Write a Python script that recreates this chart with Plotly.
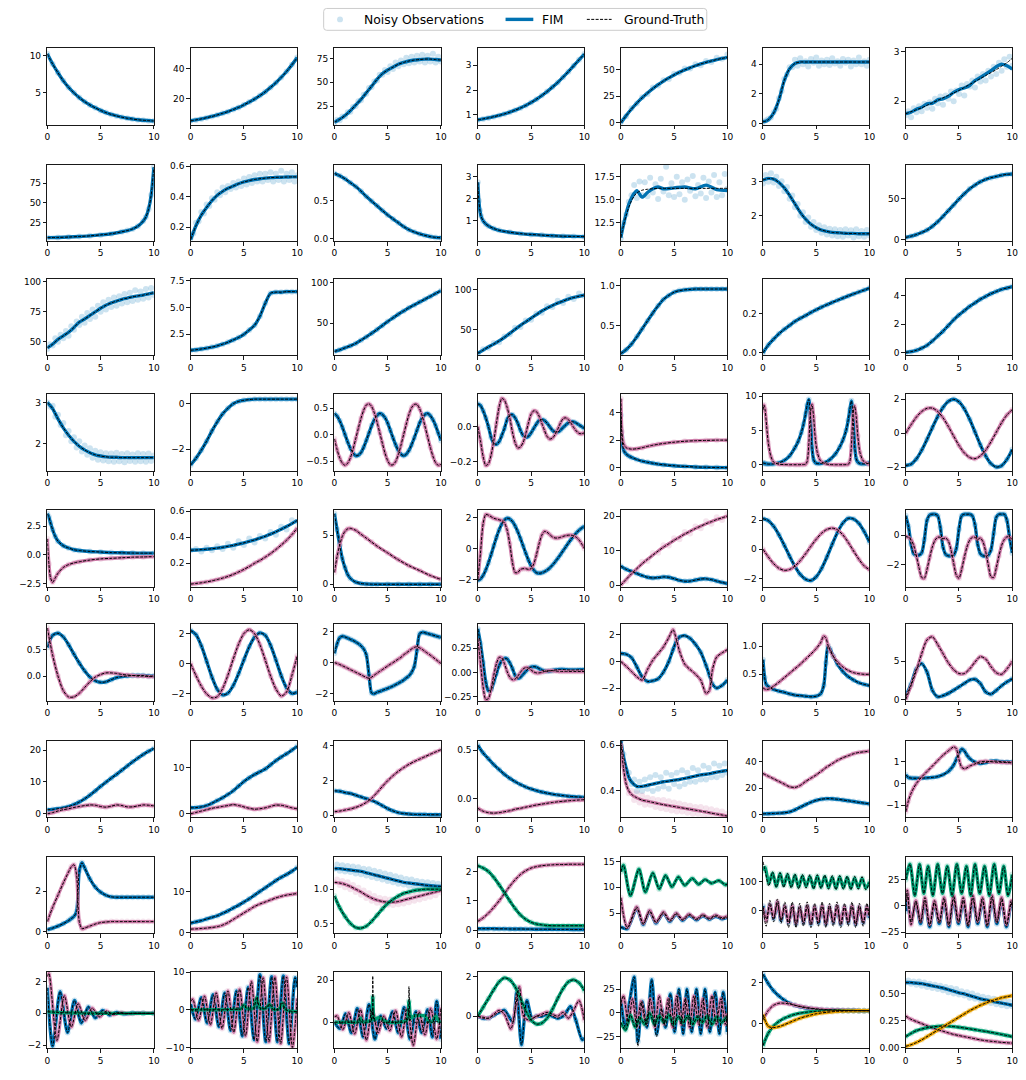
import plotly.graph_objects as go

# ---------------- common time grids ----------------
T11 = [0, 1, 2, 3, 4, 5, 6, 7, 8, 9, 10]
T21 = [0, 0.5, 1, 1.5, 2, 2.5, 3, 3.5, 4, 4.5, 5, 5.5, 6, 6.5, 7, 7.5, 8, 8.5, 9, 9.5, 10]
T41 = [0, 0.25, 0.5, 0.75, 1, 1.25, 1.5, 1.75, 2, 2.25, 2.5, 2.75, 3, 3.25, 3.5, 3.75, 4, 4.25, 4.5, 4.75,
       5, 5.25, 5.5, 5.75, 6, 6.25, 6.5, 6.75, 7, 7.25, 7.5, 7.75, 8, 8.25, 8.5, 8.75, 9, 9.25, 9.5, 9.75, 10]
X_TICKS = ["0", "5", "10"]
LEGEND_LABELS = ["Noisy Observations", "FIM", "Ground-Truth"]

# ---------------- row 1 ----------------
r1c1_t = T21
r1c1_gt = [[10.3, 8.9, 7.7, 6.6, 5.7, 4.95, 4.3, 3.75, 3.3, 2.9, 2.55, 2.25, 2.0, 1.8, 1.62, 1.48, 1.37, 1.27, 1.2, 1.15, 1.1]]
r1c1_ylim = [0.54, 11.04]
r1c1_yticks = ["5", "10"]

r1c2_t = T21
r1c2_gt = [[5.4, 6.0, 6.7, 7.5, 8.3, 9.3, 10.4, 11.5, 12.9, 14.3, 16.0, 17.8, 19.8, 22.1, 24.6, 27.5, 30.6, 34.1, 38.0, 42.4, 47.2]]
r1c2_ylim = [2.6, 53.3]
r1c2_yticks = ["20", "40"]

r1c3_t = T21
r1c3_gt = [[8, 11, 15, 20, 26, 32, 39, 46, 53, 59, 63, 66, 69, 71, 72.5, 73.5, 74, 74.5, 74.5, 74, 73.5]]
r1c3_obs_t = T41
r1c3_obs = [[7, 10.5, 10, 14, 14, 18.5, 19, 24, 25, 30, 31, 37, 38, 44, 45, 51, 52, 58, 58, 63, 61, 67, 64, 71, 67,
             73, 69, 76, 70, 77, 71, 78, 72, 79, 71, 78, 72, 80, 71, 77, 72]]
r1c3_ylim = [4.9, 85.8]
r1c3_yticks = ["25", "50", "75"]

r1c4_t = T21
r1c4_gt = [[0.80, 0.84, 0.88, 0.93, 0.98, 1.04, 1.11, 1.19, 1.28, 1.38, 1.50, 1.63, 1.78, 1.94, 2.12, 2.31, 2.52, 2.74, 2.98, 3.22, 3.45]]
r1c4_ylim = [0.59, 3.68]
r1c4_yticks = ["1", "2", "3"]

r1c5_t = T21
r1c5_gt = [[0, 6.7, 12.9, 18.4, 23.4, 27.9, 32.0, 35.7, 39.1, 42.1, 44.9, 47.4, 49.6, 51.6, 53.5, 55.2, 56.7, 58.0, 59.3, 60.4, 61.4]]
r1c5_obs = [[0.5, 6, 13.5, 18, 24, 27, 33, 35, 40, 41, 46, 47, 51, 51, 55, 54, 58, 57, 61, 60, 64]]
r1c5_ylim = [-2.2, 69.8]
r1c5_yticks = ["0", "25", "50"]

r1c6_t = T21
r1c6_gt = [[0.1, 0.25, 0.7, 1.6, 2.9, 3.7, 4.05, 4.15, 4.15, 4.15, 4.15, 4.15, 4.15, 4.15, 4.15, 4.15, 4.15, 4.15, 4.15, 4.15, 4.15]]
r1c6_obs_t = T41
r1c6_obs = [[0.1, 0.2, 0.3, 0.4, 0.75, 1.0, 1.7, 2.2, 3.0, 3.3, 3.8, 3.8, 4.3, 3.9, 4.4, 4.0, 4.2, 3.85, 4.35, 4.1,
             4.45, 3.9, 4.25, 4.0, 4.3, 3.95, 4.4, 4.05, 4.2, 3.9, 4.35, 4.1, 4.3, 3.85, 4.25, 4.0, 4.45, 4.0, 4.2, 3.9, 4.3]]
r1c6_ylim = [-0.11, 5.07]
r1c6_yticks = ["0", "2", "4"]

r1c7_t = T21
r1c7_gt = [[1.75, 1.79, 1.83, 1.87, 1.92, 1.97, 2.02, 2.07, 2.12, 2.17, 2.22, 2.28, 2.34, 2.40, 2.46, 2.52, 2.58, 2.64, 2.71, 2.78, 2.87]]
r1c7_fim = [[1.75, 1.78, 1.84, 1.88, 1.95, 1.96, 2.03, 2.05, 2.1, 2.18, 2.24, 2.27, 2.32, 2.42, 2.48, 2.55, 2.62, 2.7, 2.75, 2.72, 2.65]]
r1c7_obs_t = T41
r1c7_obs = [[1.72, 1.8, 1.68, 1.86, 1.78, 1.9, 1.8, 1.95, 1.87, 1.98, 1.85, 2.05, 1.96, 2.1, 1.93, 2.12, 2.05, 2.2, 2.0, 2.22,
             2.15, 2.32, 2.12, 2.35, 2.3, 2.42, 2.28, 2.5, 2.4, 2.55, 2.42, 2.62, 2.5, 2.7, 2.55, 2.78, 2.62, 2.85, 2.7, 2.9, 2.72]]
r1c7_ylim = [1.52, 3.07]
r1c7_yticks = ["2", "3"]

# ---------------- row 2 ----------------
r2c1_t = [0, 1, 2, 3, 4, 5, 6, 7, 7.5, 8, 8.5, 9, 9.25, 9.5, 9.75, 10]
r2c1_gt = [[6, 6.3, 6.8, 7.5, 8.3, 9.5, 11, 13.5, 15, 17, 20.5, 27, 32, 42, 60, 95]]
r2c1_ylim = [1.5, 98.5]
r2c1_yticks = ["25", "50", "75"]

r2c2_t = T21
r2c2_gt = [[0.12, 0.21, 0.28, 0.33, 0.375, 0.41, 0.435, 0.455, 0.47, 0.485, 0.497, 0.506, 0.513, 0.518, 0.522, 0.525, 0.527, 0.528, 0.529, 0.53, 0.53]]
r2c2_obs_t = T41
r2c2_obs = [[0.13, 0.16, 0.23, 0.24, 0.3, 0.29, 0.35, 0.34, 0.39, 0.38, 0.43, 0.41, 0.46, 0.43, 0.47, 0.45, 0.49, 0.46, 0.5, 0.47,
             0.52, 0.48, 0.53, 0.49, 0.54, 0.5, 0.55, 0.5, 0.55, 0.51, 0.56, 0.5, 0.55, 0.51, 0.57, 0.5, 0.55, 0.51, 0.56, 0.5, 0.54]]
r2c2_ylim = [0.109, 0.611]
r2c2_yticks = ["0.2", "0.4", "0.6"]

r2c3_t = T21
r2c3_gt = [[0.85, 0.82, 0.78, 0.73, 0.68, 0.62, 0.55, 0.49, 0.43, 0.37, 0.31, 0.26, 0.21, 0.16, 0.12, 0.09, 0.065, 0.045, 0.03, 0.02, 0.015]]
r2c3_ylim = [-0.03, 0.966]
r2c3_yticks = ["0.0", "0.5"]

r2c4_t = [0, 0.1, 0.2, 0.3, 0.5, 0.75, 1, 1.5, 2, 3, 4, 5, 6, 7, 8, 9, 10]
r2c4_gt = [[2.75, 1.9, 1.45, 1.2, 0.98, 0.84, 0.75, 0.63, 0.55, 0.46, 0.4, 0.36, 0.33, 0.3, 0.28, 0.27, 0.26]]
r2c4_ylim = [0.05, 3.56]
r2c4_yticks = ["1", "2", "3"]

r2c5_t = [0, 0.25, 0.5, 0.75, 1, 1.25, 1.5, 2, 2.5, 3, 3.5, 4, 5, 6, 7, 8, 9, 10]
r2c5_gt = [[10.9, 12.2, 13.3, 14.2, 14.9, 15.4, 15.75, 16.05, 16.15, 16.2, 16.25, 16.25, 16.25, 16.25, 16.25, 16.25, 16.25, 16.25]]
r2c5_fim = [[10.9, 12.3, 13.5, 14.5, 15.2, 15.7, 16.0, 15.3, 15.8, 16.2, 16.4, 16.2, 16.3, 16.4, 16.2, 16.6, 16.1, 16.0]]
r2c5_obs_t = T41
r2c5_obs = [[10.8, 12.5, 13.4, 14.8, 15.5, 16.6, 15.2, 17.0, 15.5, 16.9, 15.4, 17.4, 15.8, 16.7, 15.1, 17.3, 15.9, 18.6, 15.5, 16.8,
             15.3, 17.5, 15.6, 16.9, 15.0, 17.2, 16.0, 17.6, 15.4, 16.6, 15.7, 17.4, 15.2, 17.0, 15.8, 17.7, 15.3, 16.9, 15.5, 17.8, 16.2]]
r2c5_ylim = [10.5, 18.84]
r2c5_yticks = ["12.5", "15.0", "17.5"]

r2c6_t = T21
r2c6_gt = [[3.05, 3.1, 3.08, 2.98, 2.82, 2.6, 2.35, 2.1, 1.9, 1.75, 1.65, 1.58, 1.54, 1.51, 1.5, 1.49, 1.48, 1.48, 1.47, 1.47, 1.47]]
r2c6_obs_t = T41
r2c6_obs = [[2.95, 3.2, 3.0, 3.25, 2.98, 3.15, 2.88, 3.02, 2.72, 2.85, 2.5, 2.6, 2.25, 2.35, 2.0, 2.1, 1.82, 1.95, 1.68, 1.82,
             1.58, 1.72, 1.5, 1.66, 1.45, 1.62, 1.42, 1.6, 1.4, 1.58, 1.38, 1.6, 1.42, 1.57, 1.36, 1.6, 1.4, 1.55, 1.38, 1.58, 1.42]]
r2c6_ylim = [1.25, 3.51]
r2c6_yticks = ["2", "3"]

r2c7_t = T21
r2c7_gt = [[3, 4.5, 6.5, 9, 12, 16.5, 22, 28.5, 35.5, 42.5, 49.5, 56, 62, 66.5, 70.5, 73.5, 75.5, 77, 78.5, 79.5, 80]]
r2c7_ylim = [-1.6, 91.5]
r2c7_yticks = ["0", "50"]

# ---------------- row 3 ----------------
r3c1_t = T21
r3c1_gt = [[45, 48, 52, 55, 58, 62, 66.5, 69, 72, 75, 78, 80.5, 82.5, 84, 85.5, 86.5, 87.5, 88.3, 89, 90, 91]]
r3c1_obs_t = T41
r3c1_obs = [[44, 48, 47, 53, 50, 56, 53, 59, 55, 63, 60, 67, 64, 71, 66, 74, 69, 77, 71, 80, 75, 83, 77, 85, 79,
             87, 80, 88, 82, 90, 83, 91, 84, 93, 85, 92, 86, 94, 87, 95, 89]]
r3c1_ylim = [38.7, 102.7]
r3c1_yticks = ["50", "75", "100"]

r3c2_t = T21
r3c2_gt = [[1.0, 1.05, 1.12, 1.2, 1.3, 1.42, 1.57, 1.75, 1.97, 2.2, 2.5, 2.9, 3.35, 4.2, 5.4, 6.35, 6.45, 6.45, 6.5, 6.5, 6.5]]
r3c2_ylim = [0.52, 7.72]
r3c2_yticks = ["2.5", "5.0", "7.5"]

r3c3_t = T21
r3c3_gt = [[15, 17, 19.5, 22, 25, 29, 33, 37.5, 42, 47, 52, 56.5, 61, 65, 69, 72.5, 76, 79.5, 83, 86.5, 90]]
r3c3_ylim = [10.2, 104.9]
r3c3_yticks = ["50", "100"]

r3c4_t = T21
r3c4_gt = [[20, 24, 28, 31.5, 35.5, 40, 45, 50, 55, 59.5, 64, 68.5, 73, 76.5, 80, 83, 85.5, 88, 90, 91.5, 93]]
r3c4_obs = [[19, 25, 27, 33, 34, 41, 44, 52, 53, 61, 62, 70, 71, 79, 78, 86, 83, 91, 88, 95, 92]]
r3c4_ylim = [17.4, 113.6]
r3c4_yticks = ["50", "100"]

r3c5_t = T21
r3c5_gt = [[0.15, 0.2, 0.27, 0.36, 0.46, 0.56, 0.66, 0.75, 0.83, 0.88, 0.92, 0.94, 0.95, 0.955, 0.96, 0.96, 0.96, 0.96, 0.96, 0.96, 0.96]]
r3c5_ylim = [0.128, 1.09]
r3c5_yticks = ["0.5", "1.0"]

r3c6_t = T21
r3c6_gt = [[0.0, 0.04, 0.07, 0.097, 0.12, 0.14, 0.16, 0.176, 0.19, 0.206, 0.22, 0.233, 0.245, 0.257, 0.268, 0.279, 0.29, 0.3, 0.31, 0.32, 0.33]]
r3c6_ylim = [-0.013, 0.378]
r3c6_yticks = ["0.0", "0.2"]

r3c7_t = T21
r3c7_gt = [[0, 0.05, 0.15, 0.3, 0.5, 0.8, 1.15, 1.5, 1.9, 2.3, 2.65, 2.95, 3.25, 3.5, 3.75, 3.95, 4.15, 4.3, 4.45, 4.55, 4.65]]
r3c7_ylim = [-0.21, 5.21]
r3c7_yticks = ["0", "2", "4"]

# ---------------- row 4 ----------------
r4c1_t = T21
r4c1_gt = [[3.0, 2.85, 2.6, 2.38, 2.2, 2.05, 1.93, 1.84, 1.77, 1.72, 1.69, 1.67, 1.66, 1.66, 1.65, 1.65, 1.65, 1.65, 1.65, 1.65, 1.65]]
r4c1_obs_t = T41
r4c1_obs = [[3.0, 2.9, 2.92, 2.65, 2.7, 2.45, 2.5, 2.2, 2.3, 2.05, 2.15, 1.9, 2.05, 1.8, 1.95, 1.72, 1.88, 1.65, 1.82, 1.6,
             1.78, 1.58, 1.76, 1.56, 1.75, 1.55, 1.77, 1.56, 1.74, 1.54, 1.76, 1.57, 1.73, 1.55, 1.76, 1.56, 1.74, 1.55, 1.75, 1.57, 1.7]]
r4c1_ylim = [1.32, 3.2]
r4c1_yticks = ["2", "3"]

r4c2_t = T21
r4c2_gt = [[-2.7, -2.4, -2.05, -1.65, -1.2, -0.8, -0.45, -0.2, 0.0, 0.1, 0.15, 0.18, 0.2, 0.2, 0.2, 0.2, 0.2, 0.2, 0.2, 0.2, 0.2]]
r4c2_ylim = [-2.97, 0.41]
r4c2_yticks = ["\u22122", "0"]

r4c3_t = T41
r4c3_gt = [
    [0.40, 0.35, 0.26, 0.14, 0.0, -0.14, -0.26, -0.35, -0.40, -0.39, -0.34, -0.24, -0.11, 0.03, 0.17, 0.28, 0.36, 0.40, 0.38, 0.32,
     0.22, 0.08, -0.06, -0.19, -0.30, -0.37, -0.40, -0.37, -0.30, -0.19, -0.06, 0.08, 0.22, 0.32, 0.38, 0.40, 0.36, 0.28, 0.17, 0.03, -0.11],
    [-0.08, -0.28, -0.44, -0.54, -0.58, -0.54, -0.44, -0.28, -0.08, 0.12, 0.31, 0.46, 0.56, 0.58, 0.53, 0.41, 0.24, 0.04, -0.16, -0.35,
     -0.49, -0.57, -0.57, -0.51, -0.38, -0.20, 0.0, 0.20, 0.38, 0.51, 0.57, 0.57, 0.49, 0.35, 0.16, -0.04, -0.24, -0.41, -0.53, -0.58, -0.56],
]
r4c3_ylim = [-0.69, 0.76]
r4c3_yticks = ["\u22120.5", "0.0", "0.5"]

r4c4_t = T41
r4c4_gt = [
    [0.13, 0.12, 0.09, 0.05, 0.0, -0.06, -0.095, -0.1, -0.085, -0.05, -0.01, 0.04, 0.065, 0.068, 0.05, 0.02, -0.02, -0.05, -0.06, -0.055,
     -0.035, -0.01, 0.015, 0.035, 0.04, 0.035, 0.02, 0.0, -0.02, -0.03, -0.03, -0.02, -0.005, 0.01, 0.022, 0.028, 0.027, 0.02, 0.01, 0.0, -0.01],
    [0.0, -0.08, -0.17, -0.22, -0.21, -0.16, -0.08, 0.02, 0.11, 0.16, 0.15, 0.11, 0.05, -0.03, -0.09, -0.12, -0.115, -0.09, -0.04, 0.02,
     0.07, 0.09, 0.085, 0.06, 0.02, -0.02, -0.055, -0.07, -0.065, -0.045, -0.015, 0.02, 0.045, 0.05, 0.04, 0.02, -0.005, -0.025, -0.038, -0.04, -0.035],
]
r4c4_ylim = [-0.252, 0.183]
r4c4_yticks = ["\u22120.2", "0.0"]

r4c5_t = [0, 0.1, 0.2, 0.3, 0.5, 0.75, 1, 1.5, 2, 2.5, 3, 3.5, 4, 5, 6, 7, 8, 9, 10]
r4c5_gt = [
    [3.8, 2.2, 1.5, 1.2, 1.0, 0.85, 0.75, 0.6, 0.48, 0.4, 0.33, 0.27, 0.22, 0.15, 0.1, 0.06, 0.04, 0.02, 0.01],
    [5.0, 2.6, 1.9, 1.65, 1.45, 1.38, 1.35, 1.38, 1.45, 1.55, 1.63, 1.7, 1.76, 1.85, 1.92, 1.96, 1.98, 2.0, 2.0],
]
r4c5_ylim = [-0.24, 5.31]
r4c5_yticks = ["0", "2", "4"]

r4c6_t = [0, 0.1, 0.2, 0.35, 0.5, 0.75, 1.0, 1.5, 2.0, 2.5, 3.0, 3.3, 3.6, 3.8, 4.0, 4.15, 4.3, 4.45, 4.6, 4.75,
          4.9, 5.1, 5.4, 5.8, 6.3, 6.8, 7.2, 7.5, 7.8, 8.0, 8.15, 8.3, 8.45, 8.6, 8.75, 8.9, 9.1, 9.4, 9.8, 10.0]
r4c6_gt = [
    [0.3, 0.25, 0.2, 0.15, 0.12, 0.12, 0.15, 0.3, 0.65, 1.3, 2.5, 3.4, 4.7, 5.9, 7.4, 8.7, 9.5, 7.0, 2.5, 0.8,
     0.35, 0.2, 0.2, 0.35, 0.8, 1.6, 2.6, 3.6, 5.0, 6.5, 8.0, 9.3, 7.2, 2.8, 0.9, 0.4, 0.2, 0.15, 0.2, 0.3],
    [8.0, 8.7, 8.0, 5.5, 3.2, 1.2, 0.4, 0.1, 0.05, 0.03, 0.03, 0.03, 0.04, 0.05, 0.1, 0.5, 3.0, 7.5, 8.8, 7.0,
     4.0, 1.8, 0.6, 0.2, 0.05, 0.03, 0.03, 0.03, 0.04, 0.08, 0.5, 2.8, 7.3, 8.6, 7.0, 4.2, 1.8, 0.6, 0.2, 0.1],
]
r4c6_ylim = [-0.9, 10.24]
r4c6_yticks = ["0", "5", "10"]

r4c7_t = T21
r4c7_gt = [
    [-1.9, -1.82, -1.51, -1.0, -0.36, 0.33, 0.98, 1.52, 1.88, 2.0, 1.85, 1.44, 0.82, 0.08, -0.68, -1.33, -1.79, -1.99, -1.91, -1.54, -0.95],
    [0.0, 0.5, 0.95, 1.28, 1.47, 1.48, 1.29, 0.91, 0.40, -0.17, -0.72, -1.16, -1.43, -1.50, -1.34, -1.0, -0.5, 0.06, 0.62, 1.08, 1.39],
]
r4c7_ylim = [-2.23, 2.29]
r4c7_yticks = ["\u22122", "0", "2"]

# ---------------- row 5 ----------------
r5c1_t = [0, 0.15, 0.3, 0.5, 0.75, 1, 1.5, 2, 2.5, 3, 4, 5, 6, 7, 8, 9, 10]
r5c1_gt = [
    [3.6, 3.3, 2.8, 2.2, 1.6, 1.2, 0.8, 0.6, 0.45, 0.38, 0.3, 0.25, 0.2, 0.18, 0.16, 0.15, 0.15],
    [1.4, -0.8, -2.0, -2.4, -2.0, -1.6, -1.1, -0.85, -0.7, -0.6, -0.45, -0.35, -0.3, -0.25, -0.2, -0.18, -0.15],
]
r5c1_ylim = [-2.8, 3.9]
r5c1_yticks = ["\u22122.5", "0.0", "2.5"]

r5c2_t = T21
r5c2_gt = [
    [0.30, 0.302, 0.305, 0.308, 0.312, 0.317, 0.323, 0.33, 0.338, 0.347, 0.357, 0.368, 0.38, 0.393, 0.408, 0.424, 0.442, 0.461, 0.482, 0.505, 0.53],
    [0.04, 0.045, 0.05, 0.057, 0.065, 0.075, 0.086, 0.099, 0.115, 0.133, 0.153, 0.175, 0.2, 0.222, 0.247, 0.275, 0.306, 0.34, 0.377, 0.42, 0.47],
]
r5c2_obs = [
    [0.3, 0.31, 0.29, 0.32, 0.3, 0.33, 0.31, 0.35, 0.32, 0.37, 0.34, 0.39, 0.36, 0.41, 0.39, 0.44, 0.42, 0.48, 0.46, 0.53, 0.52],
    None,
]
r5c2_ylim = [0.018, 0.608]
r5c2_yticks = ["0.2", "0.4", "0.6"]

r5c3_t = [0, 0.25, 0.5, 0.75, 1, 1.25, 1.5, 2, 2.5, 3, 3.5, 4, 5, 6, 7, 8, 9, 10]
r5c3_gt = [
    [7.2, 5.6, 4.0, 2.6, 1.7, 1.0, 0.6, 0.22, 0.08, 0.03, 0.01, 0, 0, 0, 0, 0, 0, 0],
    [1.2, 2.8, 4.0, 4.9, 5.4, 5.65, 5.7, 5.5, 5.1, 4.7, 4.3, 3.9, 3.2, 2.5, 1.9, 1.4, 0.9, 0.5],
]
r5c3_ylim = [-0.27, 7.55]
r5c3_yticks = ["0", "5"]

r5c4_t = T41
r5c4_gt = [
    [-2.05, -1.97, -1.74, -1.38, -0.92, -0.39, 0.17, 0.72, 1.2, 1.58, 1.84, 1.95, 1.91, 1.74, 1.46, 1.09, 0.65, 0.175, -0.30, -0.74,
     -1.11, -1.39, -1.56, -1.6, -1.57, -1.5, -1.39, -1.25, -1.07, -0.87, -0.64, -0.40, -0.15, 0.10, 0.35, 0.59, 0.81, 1.01, 1.18, 1.32, 1.42],
    [-2.0, -0.3, 1.6, 2.2, 2.15, 2.05, 1.95, 1.9, 1.85, 1.8, 1.65, 1.2, 0.3, -0.9, -1.55, -1.55, -1.35, -1.3, -1.3, -1.35,
     -1.3, -1.0, -0.4, 0.3, 0.85, 1.1, 1.05, 0.9, 0.75, 0.68, 0.68, 0.72, 0.78, 0.83, 0.86, 0.86, 0.82, 0.72, 0.55, 0.3, 0.0],
]
r5c4_ylim = [-2.48, 2.47]
r5c4_yticks = ["\u22122", "0", "2"]

r5c5_t = T21
r5c5_gt = [
    [5.5, 4.6, 4.0, 3.4, 2.8, 2.3, 2.1, 2.2, 2.4, 2.3, 1.9, 1.4, 1.15, 1.2, 1.5, 1.8, 1.85, 1.6, 1.2, 0.8, 0.45],
    [0, 1.7, 3.3, 4.8, 6.2, 7.5, 8.7, 9.9, 11.0, 12.0, 13.0, 13.9, 14.8, 15.6, 16.4, 17.1, 17.8, 18.4, 19.0, 19.5, 20.0],
]
r5c5_obs = [
    None,
    [0.3, 1.2, 3.8, 4.3, 6.8, 7.0, 9.3, 9.4, 11.6, 11.5, 13.6, 13.3, 15.4, 15.0, 17.0, 16.5, 18.5, 17.8, 19.7, 18.9, 20.6],
]
r5c5_ylim = [-0.5, 21.7]
r5c5_yticks = ["0", "10", "20"]

r5c6_t = T21
r5c6_gt = [
    [2.1, 1.97, 1.58, 0.99, 0.28, -0.48, -1.17, -1.73, -2.06, -2.15, -1.89, -1.32, -0.53, 0.35, 1.17, 1.8, 2.12, 2.08, 1.78, 1.21, 0.48],
    [0.0, -0.53, -0.99, -1.31, -1.45, -1.39, -1.16, -0.78, -0.31, 0.21, 0.69, 1.1, 1.36, 1.45, 1.33, 0.98, 0.47, -0.12, -0.69, -1.15, -1.41],
]
r5c6_ylim = [-2.59, 2.68]
r5c6_yticks = ["\u22122", "0", "2"]

r5c7_t = T41
r5c7_gt = [
    [1.3, 0.6, -0.6, -1.25, -1.35, -1.35, -1.2, -0.3, 1.0, 1.35, 1.4, 1.4, 1.3, 0.5, -0.8, -1.3, -1.4, -1.4, -1.35, -0.9,
     0.4, 1.3, 1.4, 1.4, 1.4, 1.3, 0.7, -0.6, -1.25, -1.4, -1.4, -1.35, -1.0, 0.1, 1.2, 1.4, 1.4, 1.4, 1.0, -0.2, -1.2],
    [-0.1, -0.15, -0.3, -0.7, -1.4, -2.2, -2.85, -2.9, -2.3, -1.5, -0.8, -0.35, -0.15, -0.15, -0.25, -0.2, -0.4, -1.0, -1.9, -2.7,
     -2.9, -2.3, -1.5, -0.8, -0.35, -0.15, -0.15, -0.3, -0.2, -0.45, -1.1, -2.0, -2.8, -2.85, -2.2, -1.4, -0.7, -0.3, -0.12, -0.15, -0.3],
]
r5c7_ylim = [-3.49, 1.67]
r5c7_yticks = ["\u22122", "0"]

# ---------------- row 6 ----------------
r6c1_t = T21
r6c1_gt = [
    [0.55, 0.78, 0.82, 0.75, 0.6, 0.42, 0.25, 0.1, -0.02, -0.09, -0.12, -0.11, -0.07, -0.03, -0.01, 0.0, 0.01, 0.01, 0.01, 0.0, 0.0],
    [0.92, 0.4, 0.0, -0.28, -0.4, -0.4, -0.33, -0.22, -0.11, -0.02, 0.03, 0.06, 0.06, 0.05, 0.03, 0.02, 0.01, 0.0, 0.0, -0.01, -0.01],
]
r6c1_ylim = [-0.48, 0.99]
r6c1_yticks = ["0.0", "0.5"]

r6c2_t = T21
r6c2_gt = [
    [2.2, 1.93, 1.19, 0.16, -0.9, -1.72, -2.09, -1.97, -1.46, -0.67, 0.25, 1.12, 1.76, 2.04, 1.88, 1.22, 0.24, -0.80, -1.61, -1.99, -1.9],
    [0.0, -0.8, -1.51, -2.02, -2.28, -2.21, -1.67, -0.77, 0.30, 1.29, 2.0, 2.25, 1.99, 1.26, 0.24, -0.83, -1.69, -2.16, -1.9, -0.8, 0.5],
]
r6c2_ylim = [-2.5, 2.61]
r6c2_yticks = ["\u22122", "0", "2"]

r6c3_t = T41
r6c3_gt = [
    [0.6, 1.2, 1.6, 1.7, 1.65, 1.58, 1.5, 1.42, 1.33, 1.22, 1.08, 0.88, 0.5, -0.8, -1.95, -2.0, -1.9, -1.85, -1.78, -1.72,
     -1.65, -1.58, -1.5, -1.42, -1.33, -1.23, -1.12, -0.98, -0.85, -0.62, -0.25, 0.8, 1.85, 1.95, 1.92, 1.87, 1.82, 1.77, 1.72, 1.67, 1.62],
    [0.0, -0.05, -0.12, -0.2, -0.28, -0.36, -0.45, -0.53, -0.62, -0.7, -0.78, -0.87, -0.95, -1.0, -0.93, -0.8, -0.68, -0.56, -0.45, -0.33,
     -0.22, -0.1, 0.0, 0.12, 0.23, 0.34, 0.5, 0.62, 0.75, 0.88, 0.98, 1.02, 0.95, 0.85, 0.72, 0.6, 0.48, 0.35, 0.22, 0.08, -0.05],
]
r6c3_ylim = [-2.47, 2.46]
r6c3_yticks = ["\u22122", "0", "2"]

r6c4_t = T41
r6c4_gt = [
    [0.45, 0.3, 0.1, -0.1, -0.19, -0.18, -0.1, -0.01, 0.07, 0.12, 0.145, 0.14, 0.1, 0.04, -0.03, -0.06, -0.05, -0.02, 0.01, 0.04,
     0.055, 0.06, 0.055, 0.04, 0.025, 0.015, 0.012, 0.015, 0.02, 0.025, 0.028, 0.03, 0.03, 0.028, 0.026, 0.025, 0.025, 0.026, 0.027, 0.027, 0.027],
    [0.35, 0.1, -0.15, -0.28, -0.27, -0.17, -0.03, 0.09, 0.155, 0.15, 0.09, 0.01, -0.05, -0.075, -0.07, -0.04, 0.0, 0.035, 0.05, 0.045,
     0.025, 0.005, -0.005, -0.005, 0.0, 0.01, 0.015, 0.018, 0.018, 0.015, 0.012, 0.01, 0.01, 0.01, 0.01, 0.01, 0.01, 0.01, 0.01, 0.01, 0.01],
]
r6c4_ylim = [-0.297, 0.497]
r6c4_yticks = ["\u22120.25", "0.00", "0.25"]

r6c5_t = [0, 0.5, 1, 1.5, 2, 2.5, 3, 3.5, 4, 4.5, 4.9, 5.2, 5.5, 6, 6.5, 7, 7.5, 8, 8.3, 8.6, 9, 9.5, 10]
r6c5_gt = [
    [0.6, 0.55, 0.3, -0.4, -1.15, -1.5, -1.45, -1.3, -0.8, 0.0, 0.9, 1.5, 1.85, 1.95, 1.75, 1.3, 0.7, -0.3, -1.0, -1.7, -2.0, -1.8, -1.4],
    [0.0, -0.35, -0.75, -1.15, -1.4, -0.6, 0.1, 0.6, 1.1, 1.8, 2.4, 1.7, 0.8, -0.2, -0.6, -0.95, -1.4, -2.4, -2.2, -0.6, 0.35, 0.65, 0.9],
]
r6c5_ylim = [-2.98, 2.8]
r6c5_yticks = ["\u22122", "0", "2"]

r6c6_t = [0, 0.15, 0.3, 0.6, 1, 1.5, 2, 2.5, 3, 3.5, 4, 4.5, 5, 5.4, 5.7, 5.9, 6.1, 6.3, 6.6, 7, 7.5, 8, 8.5, 9, 9.5, 10]
r6c6_gt = [
    [0.76, 0.45, 0.32, 0.27, 0.23, 0.2, 0.18, 0.15, 0.13, 0.12, 0.11, 0.1, 0.11, 0.15, 0.3, 0.7, 1.0, 0.95, 0.82, 0.68, 0.55, 0.46, 0.4, 0.35, 0.32, 0.3],
    [0.26, 0.24, 0.23, 0.24, 0.29, 0.36, 0.44, 0.52, 0.6, 0.68, 0.77, 0.86, 0.96, 1.06, 1.18, 1.15, 1.02, 0.92, 0.82, 0.72, 0.63, 0.57, 0.53, 0.51, 0.5, 0.5],
]
r6c6_ylim = [0.023, 1.39]
r6c6_yticks = ["0.5", "1.0"]

r6c7_t = T21
r6c7_gt = [
    [0.4, 2.0, 4.0, 4.7, 3.6, 1.2, 0.35, 0.5, 0.8, 1.2, 1.65, 2.1, 2.55, 2.65, 2.1, 1.0, 0.7, 1.2, 1.8, 2.3, 2.7],
    [0.0, 1.8, 3.8, 6.0, 7.8, 8.2, 7.2, 6.0, 4.8, 3.9, 3.4, 3.4, 4.0, 4.9, 5.6, 5.3, 4.3, 3.5, 3.3, 4.0, 5.0],
]
r6c7_ylim = [-0.21, 9.83]
r6c7_yticks = ["0", "5"]

# ---------------- row 7 ----------------
r7c1_t = T21
r7c1_gt = [
    [1.3, 1.4, 1.6, 1.9, 2.3, 2.9, 3.7, 4.7, 5.9, 7.2, 8.6, 9.9, 11.2, 12.4, 13.7, 15.0, 16.3, 17.5, 18.6, 19.6, 20.5],
    [0.0, 0.4, 0.9, 1.3, 1.6, 2.0, 2.3, 2.6, 2.8, 2.7, 2.3, 2.1, 2.4, 2.8, 2.6, 2.2, 2.2, 2.5, 2.8, 2.7, 2.5],
]
r7c1_ylim = [-1.15, 22.9]
r7c1_yticks = ["0", "10", "20"]

r7c2_t = T21
r7c2_gt = [
    [1.3, 1.35, 1.5, 1.8, 2.3, 2.9, 3.5, 4.2, 5.0, 6.0, 7.0, 7.8, 8.5, 9.1, 9.7, 10.6, 11.5, 12.3, 13.0, 13.8, 14.6],
    [0.0, 0.3, 0.6, 0.9, 1.2, 1.4, 1.6, 1.8, 2.0, 1.8, 1.5, 1.2, 1.0, 1.1, 1.3, 1.6, 1.9, 1.85, 1.6, 1.3, 1.1],
]
r7c2_ylim = [-0.8, 15.8]
r7c2_yticks = ["0", "10"]

r7c3_t = T21
r7c3_gt = [
    [1.4, 1.38, 1.3, 1.25, 1.15, 1.05, 0.95, 0.85, 0.72, 0.55, 0.38, 0.25, 0.15, 0.1, 0.07, 0.05, 0.04, 0.04, 0.03, 0.03, 0.03],
    [0.2, 0.24, 0.3, 0.36, 0.45, 0.57, 0.74, 0.98, 1.3, 1.65, 1.98, 2.27, 2.52, 2.73, 2.92, 3.08, 3.22, 3.36, 3.5, 3.63, 3.76],
]
r7c3_ylim = [-0.13, 4.27]
r7c3_yticks = ["0", "2", "4"]

r7c4_t = T21
r7c4_gt = [
    [0.55, 0.47, 0.41, 0.35, 0.3, 0.25, 0.21, 0.175, 0.145, 0.12, 0.1, 0.083, 0.068, 0.056, 0.046, 0.038, 0.031, 0.025, 0.02, 0.016, 0.013],
    [-0.1, -0.13, -0.145, -0.15, -0.145, -0.135, -0.125, -0.11, -0.1, -0.088, -0.077, -0.066, -0.057, -0.048, -0.04, -0.033, -0.027, -0.022, -0.018, -0.014, -0.011],
]
r7c4_ylim = [-0.195, 0.596]
r7c4_yticks = ["0.0", "0.5"]

r7c5_t = [0, 0.25, 0.5, 0.75, 1, 1.5, 2, 2.5, 3, 3.5, 4, 4.5, 5, 5.5, 6, 6.5, 7, 7.5, 8, 8.5, 9, 9.5, 10]
r7c5_gt = [
    [0.62, 0.55, 0.5, 0.46, 0.44, 0.42, 0.42, 0.425, 0.43, 0.435, 0.44, 0.443, 0.447, 0.45, 0.455, 0.46, 0.465, 0.47, 0.473, 0.477, 0.482, 0.486, 0.49],
    [0.61, 0.5, 0.43, 0.4, 0.385, 0.37, 0.36, 0.355, 0.35, 0.345, 0.34, 0.336, 0.332, 0.328, 0.324, 0.32, 0.316, 0.312, 0.308, 0.303, 0.299, 0.295, 0.29],
]
r7c5_obs_t = T41
r7c5_obs = [
    [0.62, 0.56, 0.49, 0.48, 0.43, 0.45, 0.4, 0.44, 0.4, 0.45, 0.41, 0.46, 0.4, 0.47, 0.41, 0.46, 0.42, 0.48, 0.41, 0.47,
     0.43, 0.48, 0.42, 0.49, 0.43, 0.48, 0.44, 0.5, 0.44, 0.49, 0.45, 0.51, 0.45, 0.5, 0.46, 0.52, 0.46, 0.51, 0.47, 0.52, 0.48],
    [0.6, 0.51, 0.44, 0.39, 0.4, 0.36, 0.39, 0.35, 0.38, 0.34, 0.37, 0.34, 0.365, 0.33, 0.36, 0.325, 0.36, 0.32, 0.355, 0.315,
     0.35, 0.31, 0.345, 0.31, 0.34, 0.305, 0.335, 0.3, 0.33, 0.3, 0.33, 0.29, 0.325, 0.29, 0.32, 0.285, 0.315, 0.28, 0.31, 0.28, 0.3],
]
r7c5_ylim = [0.284, 0.619]
r7c5_yticks = ["0.4", "0.6"]

r7c6_t = T21
r7c6_gt = [
    [0.5, 0.6, 0.8, 1.0, 1.3, 2.0, 3.5, 5.5, 7.5, 9.3, 10.7, 11.6, 12.0, 11.9, 11.5, 11.0, 10.4, 9.8, 9.2, 8.6, 8.0],
    [31, 29, 27, 25, 23, 21, 20.5, 22, 25, 27.5, 30, 33, 36, 38.5, 41, 43, 44.5, 46, 47, 47.5, 48],
]
r7c6_ylim = [-2.3, 55.8]
r7c6_yticks = ["0", "20", "40"]

r7c7_t = [0, 0.25, 0.5, 0.75, 1, 1.5, 2, 2.5, 3, 3.5, 4, 4.25, 4.5, 4.75, 5, 5.25, 5.5, 5.75, 6, 6.5, 7, 7.5, 8, 8.5, 9, 9.5, 10]
r7c7_gt = [
    [0.4, 0.28, 0.25, 0.24, 0.24, 0.25, 0.26, 0.28, 0.32, 0.4, 0.55, 0.68, 0.85, 1.1, 1.4, 1.58, 1.5, 1.3, 1.15, 0.98, 0.92, 0.96, 1.02, 1.03, 1.0, 0.99, 0.98],
    [-1.3, -0.8, -0.45, -0.2, 0.0, 0.3, 0.55, 0.8, 1.05, 1.3, 1.5, 1.6, 1.68, 1.6, 1.1, 0.75, 0.68, 0.72, 0.8, 0.9, 1.0, 1.02, 1.0, 0.98, 0.97, 0.96, 0.95],
]
r7c7_ylim = [-1.56, 1.96]
r7c7_yticks = ["\u22121", "0", "1"]

# ---------------- row 8 ----------------
r8c1_t = [0, 0.5, 1, 1.5, 2, 2.25, 2.5, 2.75, 3, 3.25, 3.5, 4, 4.5, 5, 5.5, 6, 6.5, 7, 7.5, 8, 8.5, 9, 9.5, 10]
r8c1_gt = [
    [0.1, 0.18, 0.28, 0.4, 0.55, 0.65, 0.75, 1.0, 3.0, 3.4, 3.15, 2.6, 2.2, 1.95, 1.8, 1.72, 1.7, 1.7, 1.7, 1.7, 1.7, 1.7, 1.7, 1.7],
    [0.5, 1.2, 1.8, 2.4, 2.95, 3.2, 3.3, 2.8, 0.5, 0.15, 0.18, 0.28, 0.38, 0.45, 0.48, 0.5, 0.5, 0.5, 0.5, 0.5, 0.5, 0.5, 0.5, 0.5],
]
r8c1_ylim = [-0.08, 3.7]
r8c1_yticks = ["0", "2"]

r8c2_t = T21
r8c2_gt = [
    [2.3, 2.6, 2.9, 3.3, 3.7, 4.1, 4.7, 5.3, 6.0, 6.7, 7.5, 8.3, 9.2, 10.1, 11.0, 11.9, 12.8, 13.6, 14.3, 15.1, 16.0],
    [0.8, 0.85, 0.95, 1.05, 1.2, 1.4, 1.8, 2.4, 3.2, 4.0, 4.8, 5.6, 6.4, 7.0, 7.5, 8.0, 8.5, 8.9, 9.2, 9.4, 9.6],
]
r8c2_ylim = [-0.25, 18.7]
r8c2_yticks = ["0", "10"]

r8c3_t = T21
r8c3_gt = [
    [1.3, 1.3, 1.29, 1.28, 1.27, 1.26, 1.24, 1.22, 1.2, 1.18, 1.16, 1.14, 1.12, 1.1, 1.09, 1.08, 1.07, 1.06, 1.05, 1.045, 1.04],
    [1.1, 1.09, 1.07, 1.04, 1.0, 0.96, 0.91, 0.87, 0.84, 0.82, 0.81, 0.81, 0.82, 0.84, 0.86, 0.88, 0.9, 0.92, 0.94, 0.96, 0.98],
    [0.9, 0.73, 0.6, 0.5, 0.44, 0.43, 0.46, 0.53, 0.62, 0.71, 0.79, 0.85, 0.9, 0.94, 0.96, 0.98, 0.99, 1.0, 1.0, 1.0, 1.0],
]
r8c3_obs_t = T41
r8c3_obs = [
    [1.3, 1.36, 1.27, 1.35, 1.26, 1.34, 1.25, 1.33, 1.23, 1.32, 1.22, 1.3, 1.2, 1.29, 1.18, 1.27, 1.16, 1.25, 1.14, 1.23,
     1.12, 1.21, 1.1, 1.19, 1.08, 1.17, 1.07, 1.15, 1.05, 1.14, 1.03, 1.12, 1.02, 1.11, 1.01, 1.1, 1.0, 1.09, 0.99, 1.08, 1.02],
    [1.1, 1.14, 1.06, 1.12, 1.03, 1.1, 1.0, 1.06, 0.96, 1.02, 0.92, 0.98, 0.87, 0.94, 0.83, 0.9, 0.8, 0.87, 0.78, 0.86,
     0.77, 0.85, 0.77, 0.86, 0.78, 0.88, 0.79, 0.9, 0.81, 0.92, 0.83, 0.94, 0.85, 0.96, 0.87, 0.98, 0.89, 1.0, 0.91, 1.02, 0.95],
    None,
]
r8c3_ylim = [0.354, 1.476]
r8c3_yticks = ["0.5", "1.0"]

r8c4_t = T21
r8c4_gt = [
    [0.05, 0.05, 0.05, 0.05, 0.045, 0.045, 0.04, 0.04, 0.04, 0.035, 0.035, 0.03, 0.03, 0.03, 0.03, 0.025, 0.025, 0.025, 0.02, 0.02, 0.02],
    [0.3, 0.42, 0.58, 0.78, 1.0, 1.25, 1.5, 1.72, 1.9, 2.03, 2.12, 2.17, 2.2, 2.22, 2.23, 2.24, 2.24, 2.25, 2.25, 2.25, 2.25],
    [2.2, 2.12, 2.0, 1.8, 1.55, 1.28, 1.0, 0.74, 0.52, 0.37, 0.27, 0.21, 0.18, 0.16, 0.15, 0.15, 0.15, 0.15, 0.15, 0.15, 0.15],
]
r8c4_ylim = [-0.11, 2.51]
r8c4_yticks = ["0", "1", "2"]

r8c5_t = [
    [0, 0.6, 1.5, 2.1, 2.7, 3.3, 4.0, 4.6, 5.2, 5.8, 6.4, 7.1, 7.7, 8.3, 8.9, 9.5, 10],
    [0, 0.6, 1.5, 2.1, 2.7, 3.3, 4.0, 4.6, 5.2, 5.8, 6.4, 7.1, 7.7, 8.3, 8.9, 9.5, 10],
    [0, 0.25, 0.9, 1.7, 2.3, 3.0, 3.6, 4.2, 4.8, 5.4, 6.0, 6.7, 7.3, 7.9, 8.5, 9.2, 9.8, 10],
]
r8c5_gt = [
    [2.3, 2.0, 5.9, 2.8, 5.3, 3.1, 5.0, 3.4, 4.8, 3.6, 4.6, 3.7, 4.5, 3.8, 4.4, 3.9, 4.2],
    [8.0, 2.2, 6.2, 3.0, 5.5, 3.3, 5.2, 3.6, 5.0, 3.8, 4.8, 3.9, 4.7, 4.0, 4.6, 4.1, 4.4],
    [13.0, 14.3, 8.4, 13.5, 9.1, 12.8, 9.7, 12.3, 10.1, 12.0, 10.4, 11.7, 10.6, 11.5, 10.8, 11.3, 10.5, 10.6],
]
r8c5_ylim = [1.08, 15.95]
r8c5_yticks = ["5", "10", "15"]

r8c6_t = [
    [0, 0.3, 0.65, 1.0, 1.35, 1.7, 2.05, 2.4, 2.75, 3.1, 3.45, 3.8, 4.15, 4.5, 4.85, 5.2, 5.55, 5.9, 6.25, 6.6, 6.95, 7.3, 7.65, 8.0, 8.35, 8.7, 9.05, 9.4, 9.75, 10],
    [0, 0.3, 0.65, 1.0, 1.35, 1.7, 2.05, 2.4, 2.75, 3.1, 3.45, 3.8, 4.15, 4.5, 4.85, 5.2, 5.55, 5.9, 6.25, 6.6, 6.95, 7.3, 7.65, 8.0, 8.35, 8.7, 9.05, 9.4, 9.75, 10],
    [0, 0.2, 0.55, 0.9, 1.25, 1.6, 1.95, 2.3, 2.65, 3.0, 3.35, 3.7, 4.05, 4.4, 4.75, 5.1, 5.45, 5.8, 6.15, 6.5, 6.85, 7.2, 7.55, 7.9, 8.25, 8.6, 8.95, 9.3, 9.65, 10],
]
r8c6_fim = [
    [15, -30, 18, -28, 25, -35, 12, -42, 12, -47, 8, -42, 12, -47, 10, -43, 12, -47, 10, -42, 12, -47, 10, -42, 12, -47, 10, -42, 10, -25],
    [10, -35, 20, -25, 30, -30, 15, -40, 15, -45, 10, -40, 15, -45, 12, -40, 15, -45, 12, -40, 15, -45, 12, -40, 15, -45, 12, -40, 12, -20],
    [140, 150, 95, 130, 85, 128, 88, 125, 85, 122, 82, 120, 85, 118, 80, 120, 82, 118, 80, 115, 78, 117, 80, 115, 78, 113, 80, 112, 78, 100],
]
r8c6_gt = [
    [15, -30, 18, -28, 25, -35, 12, -42, 12, -47, 8, -42, 12, -47, 10, -43, 12, -47, 10, -42, 12, -47, 10, -42, 12, -47, 10, -42, 10, -25],
    [10, -55, 35, -40, 40, -45, 30, -60, 30, -60, 25, -55, 30, -60, 25, -55, 30, -60, 25, -55, 30, -60, 25, -55, 30, -60, 25, -55, 25, -30],
    [170, 140, 85, 135, 80, 132, 80, 130, 78, 128, 75, 126, 78, 125, 75, 125, 76, 124, 74, 122, 72, 122, 74, 120, 72, 120, 74, 118, 72, 100],
]
r8c6_ylim = [-80, 188]
r8c6_yticks = ["0", "100"]

r8c7_t = [
    [0, 0.15, 0.5, 0.95, 1.4, 1.8, 2.25, 2.7, 3.15, 3.6, 4.05, 4.5, 4.95, 5.4, 5.85, 6.3, 6.75, 7.2, 7.65, 8.1, 8.55, 9.0, 9.45, 9.9, 10],
    [0, 0.15, 0.5, 0.95, 1.4, 1.8, 2.25, 2.7, 3.15, 3.6, 4.05, 4.5, 4.95, 5.4, 5.85, 6.3, 6.75, 7.2, 7.65, 8.1, 8.55, 9.0, 9.45, 9.9, 10],
    [0, 0.4, 0.85, 1.3, 1.7, 2.1, 2.55, 3.0, 3.45, 3.9, 4.35, 4.8, 5.25, 5.7, 6.1, 6.5, 6.95, 7.4, 7.85, 8.3, 8.75, 9.2, 9.6, 10],
]
r8c7_gt = [
    [-5, 10, -15, 3, -17, 5, -20, 3, -17, 5, -20, 7, -17, 5, -20, 7, -17, 5, -20, 7, -17, 5, -20, 3, -2],
    [5, 15, -18, 5, -15, 8, -18, 5, -15, 8, -18, 10, -15, 8, -18, 10, -15, 8, -18, 10, -15, 8, -18, 5, 0],
    [25, 40, 10, 40, 12, 38, 10, 40, 12, 38, 10, 40, 12, 38, 10, 40, 12, 38, 10, 40, 12, 38, 10, 30],
]
r8c7_ylim = [-26.3, 47.2]
r8c7_yticks = ["\u221225", "0", "25"]

# ---------------- row 9 ----------------
r9c1_t = [
    [0, 0.5, 1.2, 1.9, 2.55, 3.2, 3.85, 4.5, 5.2, 5.85, 6.5, 7.2, 8, 9, 10],
    [0, 0.15, 0.9, 1.6, 2.25, 2.9, 3.55, 4.2, 4.9, 5.55, 6.2, 6.9, 7.6, 8.5, 10],
    T11,
]
r9c1_gt = [
    [1.6, -2.05, 1.35, -1.2, 0.8, -0.6, 0.4, -0.28, 0.18, -0.1, 0.06, -0.03, 0.01, 0, 0],
    [2.3, 2.5, -1.7, 1.1, -0.85, 0.6, -0.45, 0.32, -0.22, 0.14, -0.08, 0.04, -0.02, 0, 0],
    [0.1, 0.05, 0.03, 0.02, 0.01, 0.01, 0.0, 0.0, 0.0, 0.0, 0.0],
]
r9c1_ylim = [-2.2, 2.6]
r9c1_yticks = ["\u22122", "0", "2"]

r9c2_t = [
    [0, 0.45, 1.0, 1.55, 2.1, 2.65, 3.2, 3.75, 4.3, 4.85, 5.4, 5.95, 6.5, 7.05, 7.6, 8.15, 8.7, 9.25, 9.8, 10],
    [0, 0.2, 0.75, 1.3, 1.85, 2.4, 2.95, 3.5, 4.05, 4.6, 5.15, 5.7, 6.25, 6.8, 7.35, 7.9, 8.45, 9.0, 9.55, 10],
    [0, 1, 2, 3, 4, 4.7, 5.0, 5.3, 5.9, 6.2, 6.5, 7.0, 7.4, 7.7, 8.0, 8.3, 8.6, 8.9, 9.5, 10],
]
r9c2_gt = [
    [1.5, -2.5, 3.2, -3.5, 4.0, -4.5, 4.5, -5.5, 5.0, -7.0, 6.0, -8.0, 9.3, -8.5, 8.8, -8.5, 9.0, -9.0, 8.5, 6.0],
    [2.3, 2.8, -2.8, 3.6, -4.0, 4.5, -5.0, 5.0, -6.0, 5.5, -7.0, 7.5, -8.5, 8.5, -8.5, 8.7, -9.0, 8.7, -10.0, 3.0],
    [0, 0, 0, 0, 0.1, 0.2, 1.3, 0.3, 0.4, 3.3, 0.5, 0.3, 1.5, 0.2, 0.0, 0.2, 1.8, 0.0, -0.4, -0.5],
]
r9c2_ylim = [-10.3, 10.1]
r9c2_yticks = ["\u221210", "0", "10"]

r9c3_t = [
    [0, 0.5, 1.05, 1.6, 2.15, 2.7, 3.25, 3.8, 4.35, 4.9, 5.45, 6.0, 6.55, 7.1, 7.65, 8.2, 8.75, 9.2, 9.6, 10],
    [0, 0.25, 0.8, 1.35, 1.9, 2.45, 3.0, 3.55, 4.1, 4.65, 5.2, 5.75, 6.3, 6.85, 7.4, 7.95, 8.5, 9.05, 9.6, 10],
    [0, 1, 2, 2.3, 2.45, 2.6, 3, 3.45, 3.6, 3.75, 4.0, 4.3, 4.6, 5, 6, 6.8, 7.0, 7.2, 7.5, 8.0, 8.5, 8.8, 9.2, 9.5, 9.8, 10],
]
r9c3_fim = [
    [0, -3, 4, -5, 6.5, -7, 8.5, -8, 3, -3, 5, -5, 7, -8, 5, -5, 6, -7, 10, -8],
    [2.5, 3.0, -3.5, 4.5, -5.5, 6.0, -8.5, 6.0, -5.0, 3.0, -4.0, 5.5, -7.0, 6.5, -11.0, 5.0, -6.0, 6.5, -8.0, 7.0],
    [0, 0, 0, 0.3, 2.0, 0.3, 0.2, 1, 12, 1, 2.0, 2.0, 1.0, 0, 0, 1, 10, 2, 3, 3.2, 3, 0.5, 0.3, 3, 0.5, 0],
]
r9c3_gt = [
    [0, -3, 4, -5, 6.5, -7, 8.5, -8, 3, -3, 5, -5, 7, -8, 5, -5, 6, -7, 10, -8],
    [2.5, 3.0, -3.5, 4.5, -5.5, 6.0, -8.5, 6.0, -5.0, 3.0, -4.0, 5.5, -7.0, 6.5, -11.0, 5.0, -6.0, 6.5, -8.0, 7.0],
    [0, 0, 0, 0, 0.5, 0, 0, 0.5, 22, 0.5, 0, 0, 0, 0, 0, 0.5, 17, 0.5, 0, 0, 0, 0, 0, 0.5, 0, 0],
]
r9c3_ylim = [-12.5, 24]
r9c3_yticks = ["0", "20"]

r9c4_t = [
    [0, 0.5, 1.0, 1.5, 2.0, 2.5, 2.9, 3.3, 3.65, 4.1, 4.6, 5.1, 5.5, 6.0, 6.5, 7.0, 7.5, 8.0, 8.3, 8.7, 9.2, 9.8, 10],
    [0, 0.5, 1.0, 1.5, 2.0, 2.5, 3.1, 3.5, 3.9, 4.3, 4.8, 5.5, 6.0, 6.5, 7.0, 7.5, 8.0, 8.5, 9.0, 9.5, 10],
    T21,
]
r9c4_gt = [
    [0.0, -0.1, -0.1, 0.05, 0.2, 0.3, 0.0, -0.3, 1.2, -1.45, 0.8, -0.1, 0.0, 0.0, 0.1, 0.0, -0.1, 0.0, 0.2, 0.5, -0.2, -1.2, -1.1],
    [0.0, -0.05, -0.1, 0.1, 0.3, 0.1, -0.65, 0.3, 1.5, 0.0, -0.2, 0.0, 0.1, 0.2, 0.1, 0.0, 0.2, -0.1, 0.3, 0.8, -0.2],
    [0.0, 0.45, 0.9, 1.35, 1.75, 1.95, 1.85, 1.5, 0.9, 0.3, -0.2, -0.4, -0.35, -0.1, 0.35, 0.9, 1.4, 1.75, 1.85, 1.7, 1.3],
]
r9c4_ylim = [-1.64, 2.26]
r9c4_yticks = ["0", "2"]

r9c5_t = [
    [0, 0.4, 0.8, 1.25, 1.6, 2.0, 2.45, 2.9, 3.35, 3.8, 4.2, 4.65, 5.05, 5.45, 5.85, 6.2, 6.65, 7.1, 7.5, 7.9, 8.35, 8.85, 9.25, 9.6, 10],
    [0, 0.25, 0.7, 1.1, 1.5, 1.9, 2.35, 2.75, 3.2, 3.6, 4.05, 4.45, 4.85, 5.25, 5.65, 6.05, 6.45, 6.85, 7.3, 7.7, 8.1, 8.55, 8.95, 9.4, 9.8, 10],
    [0, 0.45, 0.9, 1.35, 1.8, 2.25, 2.7, 3.15, 3.6, 4.05, 4.5, 4.95, 5.4, 5.85, 6.3, 6.75, 7.2, 7.65, 8.1, 8.55, 9.0, 9.45, 9.9, 10],
]
r9c5_fim = [
    [15, -15, 10, 38, -30, 12, -15, 35, -22, 5, -15, 20, -20, 25, -22, 25, -20, 25, -22, 25, -20, 22, -22, 22, -20],
    [10, 18, -10, 15, -15, 12, -12, 15, -15, 18, -12, 15, -15, 18, -12, 15, -15, 18, -12, 15, -15, 18, -12, 15, -12, 0],
    [-10, -18, -2, -15, -5, -12, 0, -12, -3, -10, -2, -12, -4, -10, -3, -12, -4, -10, -3, -12, -4, -10, -5, -8],
]
r9c5_gt = [
    [15, -15, 10, 38, -35, 12, -15, 35, -25, 5, -15, 20, -20, 25, -22, 25, -20, 25, -22, 25, -20, 22, -22, 22, -20],
    [10, 18, -10, 15, -15, 12, -12, 15, -15, 18, -12, 15, -15, 18, -12, 15, -15, 18, -12, 15, -15, 18, -12, 15, -12, 0],
    [-10, -18, -2, -15, -5, -12, 0, -12, -3, -10, -2, -12, -4, -10, -3, -12, -4, -10, -3, -12, -4, -10, -5, -8],
]
r9c5_ylim = [-37.4, 43.4]
r9c5_yticks = ["\u221225", "0", "25"]

r9c6_t = T21
r9c6_gt = [
    [2.4, 1.95, 1.6, 1.35, 1.15, 1.0, 0.9, 0.83, 0.78, 0.74, 0.71, 0.69, 0.68, 0.67, 0.66, 0.65, 0.65, 0.65, 0.64, 0.64, 0.64],
    [0.2, 0.65, 0.9, 1.0, 1.0, 0.96, 0.9, 0.85, 0.8, 0.76, 0.73, 0.71, 0.69, 0.68, 0.67, 0.66, 0.65, 0.65, 0.64, 0.64, 0.64],
    [-1.05, -0.45, -0.1, 0.12, 0.27, 0.38, 0.46, 0.52, 0.56, 0.59, 0.61, 0.62, 0.63, 0.63, 0.64, 0.64, 0.64, 0.64, 0.64, 0.64, 0.64],
    [0.45, -0.12, -0.18, -0.13, -0.04, 0.07, 0.18, 0.28, 0.36, 0.43, 0.49, 0.53, 0.56, 0.59, 0.61, 0.62, 0.63, 0.63, 0.64, 0.64, 0.64],
]
r9c6_ylim = [-1.19, 2.52]
r9c6_yticks = ["0", "2"]

r9c7_t = T21
r9c7_gt = [
    [0.6, 0.6, 0.595, 0.59, 0.58, 0.57, 0.56, 0.55, 0.535, 0.52, 0.505, 0.495, 0.48, 0.465, 0.45, 0.44, 0.43, 0.42, 0.41, 0.4, 0.39],
    [0.29, 0.26, 0.24, 0.22, 0.2, 0.18, 0.165, 0.15, 0.135, 0.12, 0.11, 0.1, 0.09, 0.08, 0.07, 0.063, 0.057, 0.052, 0.047, 0.043, 0.04],
    [0.1, 0.13, 0.155, 0.17, 0.182, 0.19, 0.195, 0.198, 0.197, 0.193, 0.187, 0.18, 0.172, 0.164, 0.156, 0.148, 0.14, 0.13, 0.12, 0.11, 0.1],
    [0.01, 0.025, 0.045, 0.07, 0.1, 0.13, 0.16, 0.19, 0.22, 0.25, 0.28, 0.31, 0.34, 0.365, 0.39, 0.41, 0.43, 0.445, 0.46, 0.47, 0.48],
]
r9c7_obs_t = T41
r9c7_obs = [
    [0.6, 0.62, 0.59, 0.61, 0.58, 0.61, 0.57, 0.6, 0.56, 0.59, 0.55, 0.58, 0.54, 0.57, 0.53, 0.56, 0.51, 0.55, 0.5, 0.54,
     0.49, 0.52, 0.48, 0.51, 0.46, 0.5, 0.45, 0.48, 0.44, 0.47, 0.42, 0.46, 0.41, 0.45, 0.4, 0.44, 0.39, 0.43, 0.38, 0.42, 0.38],
    None, None, None,
]
r9c7_ylim = [-0.01, 0.70]
r9c7_yticks = ["0.00", "0.25", "0.50"]

# ---------------- styling / layout ----------------
COLORS = ["#0072B2", "#CC79A7", "#009E73", "#E69F00"]
FONT = "DejaVu Sans"
FW, FH = 1026, 1080
COL_X = [44.7, 189.3, 334.3, 479.0, 623.3, 766.7, 910.7]
ROW_Y = [44.7, 161.7, 276.7, 393.3, 510.0, 625.0, 742.3, 859.0, 975.0]
PW, PH = 107.5, 77.3

G = globals()
fig = go.Figure()
layout = {}


def per_dim(tv, n):
    if isinstance(tv[0], list):
        return tv
    return [tv] * n


for r in range(1, 10):
    for c in range(1, 8):
        key = "r%dc%d" % (r, c)
        k = (r - 1) * 7 + c
        xa = "x" if k == 1 else "x%d" % k
        ya = "y" if k == 1 else "y%d" % k
        fim = G.get(key + "_fim")
        gt = G.get(key + "_gt") or fim
        fim = fim or gt
        n = len(gt)
        ts = per_dim(G[key + "_t"], n)
        obs = G.get(key + "_obs") or [None] * n
        obs_t = G.get(key + "_obs_t")
        for d in range(n):
            if obs[d] is not None:
                ox = obs_t if obs_t is not None else ts[d]
                oy = obs[d]
            else:
                ox, oy = ts[d], fim[d]
            fig.add_trace(go.Scatter(
                x=ox, y=oy, mode="markers", xaxis=xa, yaxis=ya,
                marker=dict(color=COLORS[d], size=6, opacity=0.2, line=dict(width=0)),
                name=LEGEND_LABELS[0], showlegend=False, hoverinfo="skip"))
        for d in range(n):
            fig.add_trace(go.Scatter(
                x=ts[d], y=fim[d], mode="lines", xaxis=xa, yaxis=ya,
                line=dict(color=COLORS[d], width=3.4, shape="spline", smoothing=0.8),
                name=LEGEND_LABELS[1], showlegend=False, hoverinfo="skip"))
        for d in range(n):
            fig.add_trace(go.Scatter(
                x=ts[d], y=gt[d], mode="lines", xaxis=xa, yaxis=ya,
                line=dict(color="black", width=1.0, dash="3px,1.4px", shape="spline", smoothing=0.8),
                name=LEGEND_LABELS[2], showlegend=False, hoverinfo="skip"))

        x0 = COL_X[c - 1]
        y0 = ROW_Y[r - 1]
        yt = G[key + "_yticks"]
        common = dict(showline=True, linecolor="black", linewidth=0.9, mirror=True,
                      ticks="outside", ticklen=3.5, tickwidth=0.9, tickcolor="black",
                      showgrid=False, zeroline=False,
                      tickfont=dict(family=FONT, size=9, color="black"))
        layout["xaxis" if k == 1 else "xaxis%d" % k] = dict(
            domain=[x0 / FW, (x0 + PW) / FW], range=[0, 10], anchor=ya,
            tickmode="array", tickvals=[float(s) for s in X_TICKS], ticktext=X_TICKS, **common)
        layout["yaxis" if k == 1 else "yaxis%d" % k] = dict(
            domain=[1 - (y0 + PH) / FH, 1 - y0 / FH], range=G[key + "_ylim"], anchor=xa,
            tickmode="array", tickvals=[float(s.replace("\u2212", "-")) for s in yt], ticktext=yt, **common)

fig.update_layout(**layout)


# ---------------- hand-drawn legend (paper coordinates, pixels -> fractions) ----------------
def px(x):
    return x / FW


def py(y):
    return 1 - y / FH


LX0, LX1, LY0, LY1, RAD = 323.5, 710.0, 4.5, 26.5, 3.0
CY = (LY0 + LY1) / 2
path = ("M %f,%f L %f,%f Q %f,%f %f,%f L %f,%f Q %f,%f %f,%f L %f,%f Q %f,%f %f,%f L %f,%f Q %f,%f %f,%f Z" % (
    px(LX0 + RAD), py(LY0), px(LX1 - RAD), py(LY0), px(LX1), py(LY0), px(LX1), py(LY0 + RAD),
    px(LX1), py(LY1 - RAD), px(LX1), py(LY1), px(LX1 - RAD), py(LY1),
    px(LX0 + RAD), py(LY1), px(LX0), py(LY1), px(LX0), py(LY1 - RAD),
    px(LX0), py(LY0 + RAD), px(LX0), py(LY0), px(LX0 + RAD), py(LY0)))
shapes = [
    dict(type="path", xref="paper", yref="paper", path=path,
         line=dict(color="#cccccc", width=1), fillcolor="rgba(255,255,255,0.8)", layer="above"),
    dict(type="circle", xref="paper", yref="paper",
         x0=px(337), x1=px(343), y0=py(CY + 3), y1=py(CY - 3),
         line=dict(width=0), fillcolor="rgba(0,114,178,0.2)", layer="above"),
    dict(type="line", xref="paper", yref="paper", x0=px(507), x1=px(535), y0=py(CY), y1=py(CY),
         line=dict(color=COLORS[0], width=3.4), layer="above"),
    dict(type="line", xref="paper", yref="paper", x0=px(589), x1=px(614), y0=py(CY), y1=py(CY),
         line=dict(color="black", width=1.0, dash="3px,1.4px"), layer="above"),
]
annotations = []
for label, xl in zip(LEGEND_LABELS, [362, 542, 624]):
    annotations.append(dict(xref="paper", yref="paper", x=px(xl), y=py(CY), text=label,
                            showarrow=False, xanchor="left", yanchor="middle",
                            font=dict(family=FONT, size=12.4, color="black")))

fig.update_layout(
    width=FW, height=FH,
    margin=dict(l=0, r=0, t=0, b=0, pad=0),
    paper_bgcolor="white", plot_bgcolor="white",
    font=dict(family=FONT, size=9, color="black"),
    showlegend=False,
    shapes=shapes,
    annotations=annotations,
)

fig.write_html("out.html",
               config={"displayModeBar": False, "staticPlot": True},
               post_script="document.body.style.margin='0px';document.body.style.overflow='hidden';"
                           "document.documentElement.style.overflow='hidden';")
